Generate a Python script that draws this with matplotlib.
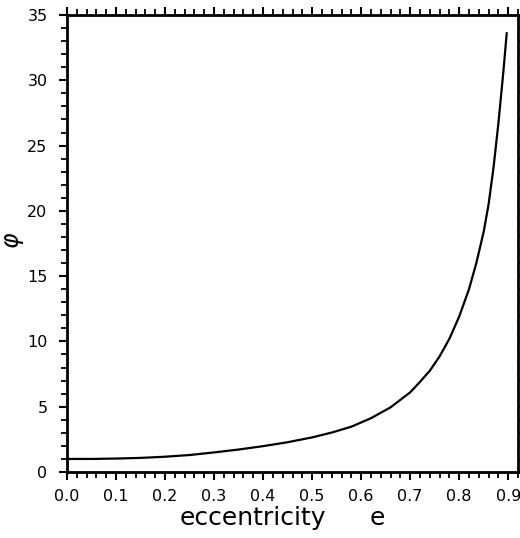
import matplotlib
matplotlib.use("Agg")
import matplotlib.pyplot as plt
from matplotlib.ticker import MultipleLocator
import numpy as np

# data
ecc = [0.0, 0.05, 0.1, 0.15, 0.2, 0.25, 0.3, 0.35, 0.4, 0.45, 0.5, 0.54,
       0.58, 0.62, 0.66, 0.7, 0.72, 0.74, 0.76, 0.78, 0.8, 0.82, 0.835,
       0.85, 0.86, 0.87, 0.88, 0.89, 0.897]
phi = [1.0, 1.0, 1.03, 1.08, 1.17, 1.3, 1.5, 1.72, 1.98, 2.28, 2.65, 3.02,
       3.47, 4.12, 4.95, 6.1, 6.9, 7.75, 8.85, 10.2, 11.9, 14.0, 16.0,
       18.4, 20.5, 23.3, 26.7, 30.6, 33.6]
xticklabels = ["0.0", "0.1", "0.2", "0.3", "0.4", "0.5", "0.6", "0.7", "0.8", "0.9"]
yticks = [0, 5, 10, 15, 20, 25, 30, 35]

plt.rcParams['font.family'] = ['DejaVu Sans']

W, H = 520, 538
fig = plt.figure(figsize=(5.2, 5.38), dpi=100)
ax = fig.add_axes([67 / W, 1 - 472 / H, (518 - 67) / W, (472 - 15) / H])
ax.plot(ecc, phi, color='black', lw=1.6)

ax.set_xlim(0, 0.92)
ax.set_ylim(0, 35)
ax.set_xticks(np.arange(len(xticklabels)) * 0.1)
ax.set_xticklabels(xticklabels)
ax.set_yticks(yticks)
ax.xaxis.set_minor_locator(MultipleLocator(0.02))
ax.yaxis.set_minor_locator(MultipleLocator(1))

for s in ax.spines.values():
    s.set_linewidth(2)
ax.tick_params(which='both', direction='out', top=True, right=True,
               labeltop=False, labelright=False, color='black')
ax.tick_params(which='major', length=6, width=1.5, labelsize=11.5)
ax.tick_params(axis='y', which='major', pad=8)
ax.tick_params(axis='x', which='major', pad=6)
ax.tick_params(which='minor', length=4, width=1.3)

fig.text(14 / W, 1 - 240 / H, r"$\varphi$", fontsize=17, rotation=90,
         ha='center', va='center')
fig.text(252.5 / W, 1 - 525 / H, "eccentricity", fontsize=18,
         ha='center', va='baseline')
fig.text(377.5 / W, 1 - 525 / H, "e", fontsize=18,
         ha='center', va='baseline')

fig.savefig("out.png", dpi=100)
